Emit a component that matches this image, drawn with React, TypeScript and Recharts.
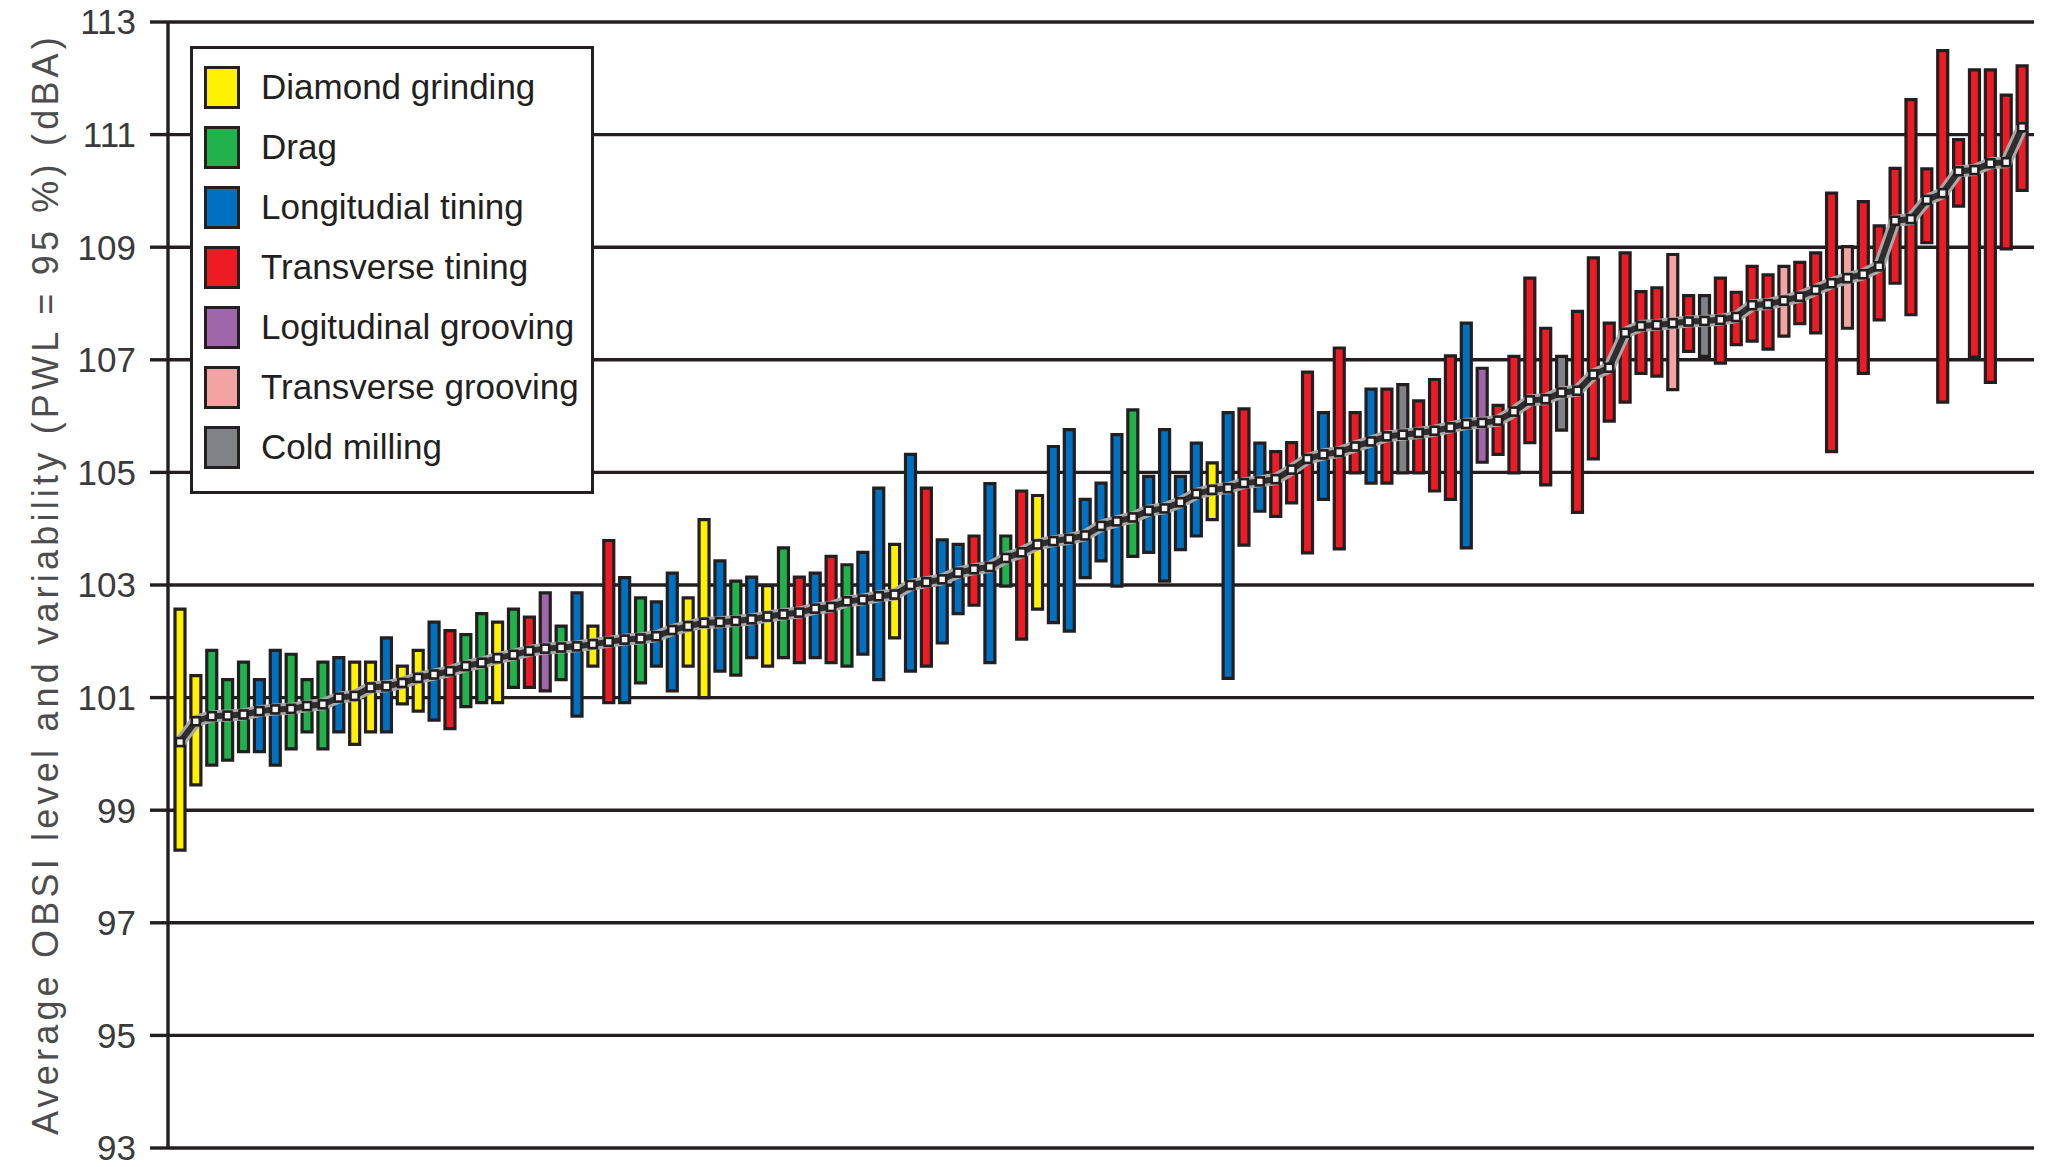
import {
  Bar,
  CartesianGrid,
  Cell,
  ComposedChart,
  Line,
  XAxis,
  YAxis,
} from "recharts";

// Y = diamond grinding, G = drag, B = longitudinal tining, R = transverse tining,
// P = longitudinal grooving, K = transverse grooving, C = cold milling
const treatments = [
  "Y", "Y", "G", "G", "G", "B", "B", "G", "G", "G",
  "B", "Y", "Y", "B", "Y", "Y", "B", "R", "G", "G",
  "Y", "G", "R", "P", "G", "B", "Y", "R", "B", "G",
  "B", "B", "Y", "Y", "B", "G", "B", "Y", "G", "R",
  "B", "R", "G", "B", "B", "Y", "B", "R", "B", "B",
  "R", "B", "G", "R", "Y", "B", "B", "B", "B", "B",
  "G", "B", "B", "B", "B", "Y", "B", "R", "B", "R",
  "R", "R", "B", "R", "R", "B", "R", "C", "R", "R",
  "R", "B", "P", "R", "R", "R", "R", "C", "R", "R",
  "R", "R", "R", "R", "K", "R", "C", "R", "R", "R",
  "R", "K", "R", "R", "R", "K", "R", "R", "R", "R",
  "R", "R", "R", "R", "R", "R", "R",
];

const lows = [
  98.29, 99.45, 99.8, 99.89, 100.04, 100.04, 99.8, 100.09, 100.39, 100.09,
  100.39, 100.17, 100.39, 100.39, 100.89, 100.76, 100.6, 100.45, 100.84, 100.91,
  100.91, 101.18, 101.18, 101.12, 101.32, 100.67, 101.56, 100.91, 100.91, 101.26,
  101.56, 101.12, 101.56, 101.0, 101.47, 101.4, 101.71, 101.56, 101.71, 101.62,
  101.71, 101.62, 101.56, 101.77, 101.32, 102.06, 101.47, 101.56, 101.97, 102.49,
  102.64, 101.62, 102.98, 102.04, 102.57, 102.33, 102.18, 103.13, 103.43, 102.98,
  103.51, 103.58, 103.07, 103.63, 103.87, 104.16, 101.34, 103.71, 104.31, 104.22,
  104.46, 103.57, 104.52, 103.64, 104.99, 104.81, 104.81, 104.99, 104.99, 104.67,
  104.52, 103.66, 105.18, 105.32, 104.99, 105.53, 104.78, 105.75, 104.29, 105.24,
  105.91, 106.25, 106.76, 106.71, 106.47, 107.15, 107.06, 106.94, 107.27, 107.33,
  107.19, 107.42, 107.64, 107.48, 105.37, 107.56, 106.76, 107.71, 108.36, 107.8,
  109.08, 106.25, 109.73, 107.05, 106.6, 108.97, 110.01,
];

const highs = [
  102.57, 101.39, 101.84, 101.32, 101.63, 101.32, 101.84, 101.77, 101.32, 101.63,
  101.71, 101.63, 101.63, 102.06, 101.56, 101.84, 102.34, 102.19, 102.12, 102.49,
  102.34, 102.57, 102.43, 102.86, 102.27, 102.86, 102.27, 103.79, 103.13, 102.77,
  102.7, 103.21, 102.77, 104.16, 103.43, 103.07, 103.14, 102.99, 103.66, 103.14,
  103.21, 103.51, 103.36, 103.58, 104.72, 103.72, 105.32, 104.72, 103.8, 103.72,
  103.87, 104.8, 103.87, 104.67, 104.59, 105.46, 105.76, 104.52, 104.81, 105.67,
  106.11, 104.93, 105.76, 104.93, 105.52, 105.17, 106.06, 106.13, 105.52, 105.37,
  105.53, 106.78, 106.06, 107.21, 106.06, 106.48, 106.48, 106.56, 106.27, 106.65,
  107.07, 107.65, 106.85, 106.19, 107.06, 108.45, 107.56, 107.06, 107.86, 108.81,
  107.65, 108.9, 108.21, 108.28, 108.87, 108.14, 108.14, 108.45, 108.2, 108.66,
  108.51, 108.66, 108.73, 108.9, 109.96, 109.01, 109.81, 109.38, 110.4, 111.62,
  110.39, 112.49, 110.91, 112.15, 112.15, 111.7, 112.22,
];

const means = [
  100.21, 100.58, 100.67, 100.68, 100.7, 100.76, 100.79, 100.8, 100.85, 100.88,
  101.0, 101.03, 101.18, 101.2, 101.26, 101.35, 101.41, 101.47, 101.56, 101.62,
  101.7, 101.76, 101.83, 101.87, 101.89, 101.91, 101.95, 101.99, 102.03, 102.05,
  102.09, 102.2, 102.27, 102.33, 102.34, 102.36, 102.39, 102.44, 102.48, 102.51,
  102.58, 102.61, 102.71, 102.74, 102.8, 102.83, 103.0, 103.05, 103.1, 103.22,
  103.28, 103.32, 103.48, 103.58, 103.72, 103.78, 103.82, 103.88, 104.05, 104.13,
  104.2, 104.32, 104.36, 104.47, 104.62, 104.69, 104.72, 104.81, 104.84, 104.88,
  105.05, 105.24, 105.32, 105.36, 105.46, 105.55, 105.64, 105.67, 105.7, 105.74,
  105.8, 105.86, 105.88, 105.92, 106.08, 106.28, 106.3, 106.42, 106.45, 106.74,
  106.86, 107.48, 107.6, 107.62, 107.65, 107.68, 107.69, 107.71, 107.76, 107.97,
  107.99, 108.05, 108.12, 108.24, 108.36, 108.45, 108.52, 108.66, 109.47, 109.5,
  109.84, 109.96, 110.35, 110.37, 110.49, 110.51, 111.13,
];

const yTicks = [93, 95, 97, 99, 101, 103, 105, 107, 109, 111, 113];

const legendItems = [
  { code: "Y", label: "Diamond grinding", color: "#fff200" },
  { code: "G", label: "Drag", color: "#22b24c" },
  { code: "B", label: "Longitudial tining", color: "#0070c0" },
  { code: "R", label: "Transverse tining", color: "#ed1c24" },
  { code: "P", label: "Logitudinal grooving", color: "#a066aa" },
  { code: "K", label: "Transverse grooving", color: "#f4a3a3" },
  { code: "C", label: "Cold milling", color: "#808285" },
];

const colorOf: Record<string, string> = {};
legendItems.forEach((l) => (colorOf[l.code] = l.color));

const data = treatments.map((t, i) => ({
  name: i + 1,
  type: t,
  range: [lows[i], highs[i]],
  mean: means[i],
}));

const INK = "#231f20";
const FONT = "'Liberation Sans', Arial, sans-serif";

const MeanDot = (props: any) => {
  const { cx, cy, index } = props;
  if (cx == null || cy == null) return null;
  return (
    <rect
      key={"m" + index}
      x={cx - 4}
      y={cy - 4}
      width={8}
      height={8}
      fill="#f6f6f6"
      stroke={INK}
      strokeWidth={2.6}
    />
  );
};

export default function App() {
  return (
    <div style={{ position: "relative", width: 2046, height: 1167, fontFamily: FONT, background: "#fff" }}>
      <style>{"body{margin:0}"}</style>
      <ComposedChart
        width={2046}
        height={1167}
        data={data}
        margin={{ top: 22, right: 12, left: 0, bottom: 19 }}
      >
        <CartesianGrid yAxisId="left" vertical={false} stroke={INK} strokeWidth={3.4} />
        <XAxis dataKey="name" hide padding={{ left: 4, right: 4 }} />
        <YAxis
          yAxisId="left"
          type="number"
          domain={[93, 113]}
          ticks={yTicks}
          interval={0}
          width={168}
          tickSize={18}
          tickMargin={14}
          axisLine={{ stroke: INK, strokeWidth: 3.4 }}
          tickLine={{ stroke: INK, strokeWidth: 3.4 }}
          tick={{ fontSize: 35, fill: "#3a3a3a", fontFamily: FONT }}
        />
        <YAxis
          yAxisId="right"
          orientation="right"
          type="number"
          domain={[93, 113]}
          width={0}
          tick={false}
          tickLine={false}
          axisLine={{ stroke: INK, strokeWidth: 3.4 }}
        />
        <Bar
          yAxisId="left"
          dataKey="range"
          barSize={10}
          stroke={INK}
          strokeWidth={3.2}
          isAnimationActive={false}
        >
          {data.map((d, i) => (
            <Cell key={i} fill={colorOf[d.type]} />
          ))}
        </Bar>
        <Line
          yAxisId="left"
          dataKey="mean"
          type="linear"
          stroke="#a8a8a8"
          strokeWidth={12}
          dot={false}
          activeDot={false}
          isAnimationActive={false}
        />
        <Line
          yAxisId="left"
          dataKey="mean"
          type="linear"
          stroke="#2e2e2e"
          strokeWidth={6}
          dot={MeanDot}
          activeDot={false}
          isAnimationActive={false}
        />
      </ComposedChart>

      <div
        style={{
          position: "absolute",
          left: 46,
          top: 584,
          transform: "translate(-50%, -50%) rotate(-90deg)",
          whiteSpace: "nowrap",
          fontSize: 36,
          letterSpacing: 4.2,
          color: "#4d4d4d",
        }}
      >
        Average OBSI level and variability (PWL = 95 %) (dBA)
      </div>

      <div
        style={{
          position: "absolute",
          left: 190,
          top: 46,
          width: 398,
          height: 434,
          border: `3px solid ${INK}`,
          background: "#fff",
          paddingTop: 8,
          boxSizing: "content-box",
        }}
      >
        {legendItems.map((l) => (
          <div key={l.code} style={{ height: 60, display: "flex", alignItems: "center" }}>
            <div
              style={{
                marginLeft: 11,
                width: 30,
                height: 37,
                background: l.color,
                border: `3px solid ${INK}`,
              }}
            />
            <span style={{ marginLeft: 21, fontSize: 35, color: INK }}>{l.label}</span>
          </div>
        ))}
      </div>
    </div>
  );
}
